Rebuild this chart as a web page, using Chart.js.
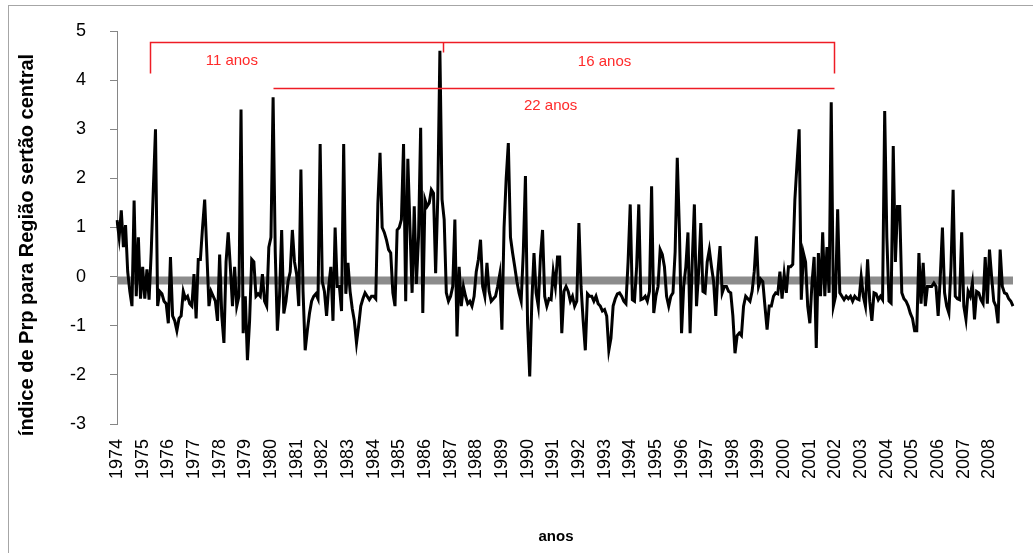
<!DOCTYPE html>
<html>
<head>
<meta charset="utf-8">
<script src="https://cdn.jsdelivr.net/npm/chart.js@4.4.1/dist/chart.umd.min.js"></script>
<style>
    html, body { margin: 0; padding: 0; background: #fff; }
    #wrap { width: 1033px; height: 553px; }
</style>
</head>
<body>
<div id="wrap"><canvas id="chart" width="1033" height="553"></canvas></div>
<script>
// ---------- DATA ----------
const yearLabels = [
    '1974','1975','1976','1977','1978','1979','1980','1981','1982','1983','1984','1985',
    '1986','1987','1988','1989','1990','1991','1992','1993','1994','1995','1996','1997',
    '1998','1999','2000','2001','2002','2003','2004','2005','2006','2007','2008'
];

// monthly index, one row per year (Jan..Dec)
const prpIndex = [
    1.15, 0.8, 1.35, 0.6, 1.05, 0.1, -0.3, -0.6, 1.55, -0.4, 0.8, -0.45,          // 1974
    0.2, -0.45, 0.15, -0.47, 0.5, 1.8, 3.0, -0.6, -0.3, -0.35, -0.5, -0.55,        // 1975
    -0.95, 0.4, -0.8, -0.9, -1.1, -0.85, -0.8, -0.3, -0.45, -0.4, -0.55, -0.6,     // 1976
    0.05, -0.85, 0.35, 0.35, 1.0, 1.57, 0.5, -0.6, -0.3, -0.4, -0.5, -0.9,         // 1977
    0.45, -0.8, -1.35, 0.3, 0.9, 0.2, -0.6, 0.2, -0.6, -0.4, 3.4, -1.15,           // 1978
    -0.4, -1.7, -0.9, 0.35, 0.3, -0.4, -0.35, -0.4, 0.05, -0.5, -0.6, 0.6,         // 1979
    0.8, 3.65, 0.5, -1.1, -0.4, 0.95, -0.75, -0.5, -0.1, 0.1, 0.95, 0.3,           // 1980
    0.05, -0.6, 2.18, -0.3, -1.5, -1.1, -0.75, -0.5, -0.4, -0.35, -0.45, 2.7,      // 1981
    -0.1, -0.3, -0.8, -0.2, 0.2, -0.9, 1.0, -0.2, -0.2, -0.7, 2.7, -0.35,          // 1982
    0.28, -0.3, -0.65, -0.9, -1.35, -1.0, -0.6, -0.45, -0.33, -0.4, -0.47, -0.4,   // 1983
    -0.4, -0.45, 1.5, 2.52, 1.0, 0.9, 0.75, 0.55, 0.48, -0.33, -0.6, 0.95,         // 1984
    1.0, 1.16, 2.7, -0.5, 2.4, 1.0, -0.33, 1.43, -0.15, 0.8, 3.03, -0.74,          // 1985
    1.57, 1.43, 1.5, 1.77, 1.7, 0.07, 1.6, 4.6, 1.57, 1.16, -0.33, -0.5,           // 1986
    -0.4, -0.2, 1.16, -1.22, 0.2, -0.6, -0.2, -0.4, -0.55, -0.5, -0.6, -0.4,       // 1987
    0.1, 0.35, 0.75, -0.2, -0.4, 0.28, -0.3, -0.5, -0.45, -0.4, -0.2, 0.05,        // 1988
    -1.08, 1.0, 2.0, 2.72, 0.8, 0.48, 0.2, -0.1, -0.33, -0.5, 0.5, 2.05,           // 1989
    -0.95, -2.03, -0.5, 0.48, -0.33, -0.6, 0.4, 0.95, -0.4, -0.6, -0.45, -0.47,    // 1990
    0.1, -0.2, 0.4, 0.4, -1.15, -0.3, -0.2, -0.3, -0.5, -0.4, -0.6, -0.5,          // 1991
    1.09, -0.2, -0.9, -1.5, -0.35, -0.4, -0.4, -0.5, -0.4, -0.55, -0.6, -0.7,      // 1992
    -0.67, -0.8, -1.5, -1.25, -0.6, -0.45, -0.35, -0.33, -0.4, -0.5, -0.55, 0.3,   // 1993
    1.47, -0.47, -0.5, 0.2, 1.47, -0.47, -0.45, -0.4, -0.5, -0.3, 1.84, -0.74,     // 1994
    -0.4, -0.2, 0.55, 0.45, 0.2, -0.4, -0.6, -0.4, -0.33, 0.5, 2.42, 0.95,         // 1995
    -1.15, -0.2, 0.2, 0.9, -1.15, 0.3, 1.47, -0.6, 0.1, 1.09, -0.3, -0.33,         // 1996
    0.3, 0.55, 0.2, -0.1, -0.8, 0.1, 0.62, -0.33, -0.2, -0.2, -0.3, -0.33,         // 1997
    -0.8, -1.56, -1.2, -1.15, -1.2, -0.6, -0.4, -0.45, -0.5, -0.3, 0.1, 0.82,      // 1998
    -0.2, -0.05, -0.1, -0.6, -1.08, -0.6, -0.6, -0.4, -0.33, -0.35, 0.1, -0.45,    // 1999
    0.05, -0.33, 0.2, 0.2, 0.25, 1.57, 2.3, 3.0, -0.47, 0.48, 0.3, -0.6,           // 2000
    -0.95, -0.13, 0.4, -1.45, 0.48, -0.4, 0.9, -0.4, 0.6, -0.33, 3.55, -0.6,       // 2001
    -0.4, 1.37, -0.33, -0.4, -0.47, -0.4, -0.45, -0.4, -0.5, -0.4, -0.45, -0.47,   // 2002
    0.0, -0.4, -0.6, 0.35, -0.5, -0.9, -0.33, -0.35, -0.47, -0.4, -0.47, 3.37,     // 2003
    0.8, -0.5, -0.54, 2.66, 0.3, 1.43, 1.43, -0.33, -0.45, -0.5, -0.6, -0.75,      // 2004
    -0.85, -1.1, -1.1, 0.48, -0.55, 0.28, -0.6, -0.2, -0.2, -0.2, -0.13, -0.2,     // 2005
    -0.8, 0.0, 1.0, -0.33, -0.6, -0.74, 0.2, 1.77, -0.4, -0.45, -0.47, 0.9,        // 2006
    -0.6, -0.87, -0.3, -0.4, -0.13, -0.87, -0.3, -0.33, -0.47, -0.55, 0.4, -0.55,  // 2007
    0.55, 0.0, -0.5, -0.6, -0.95, 0.55, -0.2, -0.33, -0.35, -0.45, -0.5, -0.6      // 2008
];

const baseLevel = -0.08; // thick grey reference line

// red brackets: x in month index, y in index units
const bracketLines = [
    [[15.5, 4.15], [15.5, 4.78], [335.5, 4.78], [335.5, 4.15]],
    [[152.3, 4.78], [152.3, 4.57]],
    [[73, 3.84], [335.5, 3.84]]
];
const bracketTexts = [
    { text: '11 anos', x: 53.7, y: 4.39 },
    { text: '16 anos', x: 228, y: 4.37 },
    { text: '22 anos', x: 202.8, y: 3.47 }
];

const yTitle = 'índice de Prp para Região sertão central';
const xTitle = 'anos';

// ---------- PLUGINS ----------
const FONT = "'Liberation Sans', Arial, sans-serif";

const framePlugin = {
    id: 'frame',
    beforeDraw(chart) {
        const ctx = chart.ctx;
        ctx.save();
        ctx.strokeStyle = '#a6a6a6';
        ctx.lineWidth = 1;
        ctx.strokeRect(8.5, 5.5, 1040, 560);
        // axis titles, placed like the original sheet
        ctx.fillStyle = '#000';
        ctx.textAlign = 'center';
        ctx.textBaseline = 'middle';
        ctx.font = 'bold 15px ' + FONT;
        ctx.fillText(xTitle, 556, 537);
        ctx.translate(27, 245);
        ctx.rotate(-Math.PI / 2);
        ctx.font = 'bold 20px ' + FONT;
        ctx.fillText(yTitle, 0, 0);
        ctx.restore();
    }
};

const bracketPlugin = {
    id: 'brackets',
    afterDatasetsDraw(chart) {
        const ctx = chart.ctx;
        const xs = chart.scales.x, ys = chart.scales.y;
        ctx.save();
        ctx.strokeStyle = '#ee1c25';
        ctx.lineWidth = 1.5;
        bracketLines.forEach(pts => {
            ctx.beginPath();
            pts.forEach((p, i) => {
                const px = Math.round(xs.getPixelForValue(p[0])) + 0.5;
                const py = Math.round(ys.getPixelForValue(p[1])) + 0.5;
                if (i === 0) ctx.moveTo(px, py); else ctx.lineTo(px, py);
            });
            ctx.stroke();
        });
        ctx.fillStyle = '#ff2a2a';
        ctx.font = '15px ' + FONT;
        ctx.textAlign = 'center';
        ctx.textBaseline = 'middle';
        bracketTexts.forEach(t => {
            ctx.fillText(t.text, xs.getPixelForValue(t.x), ys.getPixelForValue(t.y));
        });
        ctx.restore();
    }
};

// ---------- CHART ----------
const labels = prpIndex.map((v, i) => i % 12 === 0 ? yearLabels[i / 12] : '');

new Chart(document.getElementById('chart'), {
    type: 'line',
    data: {
        labels,
        datasets: [
            {
                label: 'Prp',
                data: prpIndex,
                borderColor: '#000',
                borderWidth: 3,
                pointRadius: 0,
                tension: 0,
                order: 0
            },
            {
                label: 'base',
                data: prpIndex.map(() => baseLevel),
                borderColor: '#8c8c8c',
                borderWidth: 8,
                pointRadius: 0,
                order: 1
            }
        ]
    },
    options: {
        responsive: false,
        animation: false,
        layout: { padding: { top: 31, right: 20, left: 0, bottom: 0 } },
        plugins: {
            legend: { display: false },
            tooltip: { enabled: false }
        },
        scales: {
            x: {
                type: 'category',
                offset: false,
                grid: { display: false, drawTicks: false },
                border: { display: false },
                ticks: {
                    autoSkip: false,
                    minRotation: 90,
                    maxRotation: 90,
                    padding: 15,
                    color: '#000',
                    font: { family: FONT, size: 18 }
                },
                afterFit(scale) {
                    scale.height = 129;
                    scale.paddingLeft = 0;
                    scale.paddingRight = 0;
                }
            },
            y: {
                min: -3,
                max: 5,
                grid: { drawOnChartArea: false, drawTicks: true, tickLength: 7, color: '#868686' },
                border: { color: '#868686', width: 1 },
                ticks: {
                    stepSize: 1,
                    padding: 24,
                    color: '#000',
                    font: { family: FONT, size: 18 }
                },
                afterFit(scale) {
                    scale.width = 117;
                    scale.paddingTop = 0;
                    scale.paddingBottom = 0;
                }
            }
        }
    },
    plugins: [framePlugin, bracketPlugin]
});
</script>
</body>
</html>
